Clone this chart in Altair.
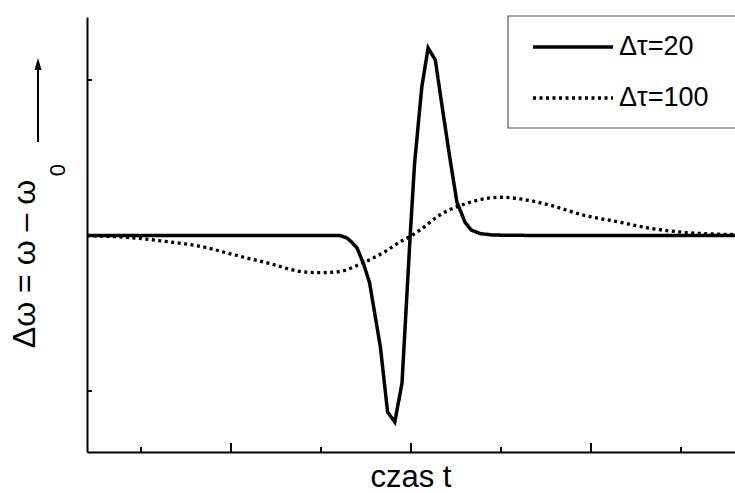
import altair as alt
import pandas as pd

# ---- data ----
series_names = ["Δτ=20", "Δτ=100"]

t_20 = [0, 100, 200, 270, 281, 289, 294, 300, 307, 314, 326, 334, 342, 350, 359,
        364, 372, 379, 387, 394, 403, 411, 420, 427, 437, 451, 500, 600, 720]
v_20 = [0, 0, 0, 0, 0, -0.016, -0.042, -0.08, -0.177, -0.305, -0.717, -1.135, -1.199,
        -0.949, -0.01, 0.466, 0.955, 1.206, 1.129, 0.852, 0.505, 0.215, 0.085, 0.035,
        0.012, 0.003, 0, 0, 0]

t_100 = [0, 53, 90, 128, 164, 201, 239, 257, 279, 306, 331, 348, 361, 370, 392, 422,
         459, 484, 514, 551, 589, 626, 662, 720]
v_100 = [0, -0.016, -0.040, -0.072, -0.125, -0.177, -0.233, -0.239, -0.233, -0.177,
         -0.104, -0.040, 0, 0.035, 0.132, 0.207, 0.246, 0.233, 0.196, 0.132, 0.089,
         0.046, 0.021, 0.006]

x_major_ticks = [160, 360, 560]
x_minor_ticks = [60, 260, 460, 660]
y_ticks = [-1, 1]

x_title = "czas t"
y_title = "Δω = ω – ω"
y_title_sub = "0"

# ---- tables ----
df20 = pd.DataFrame({"t": t_20, "v": v_20, "series": series_names[0]})
df100 = pd.DataFrame({"t": t_100, "v": v_100, "series": series_names[1]})
dmaj = pd.DataFrame({"t": x_major_ticks})
dmin = pd.DataFrame({"t": x_minor_ticks})
dyt = pd.DataFrame({"v": y_ticks})

FONT = "Liberation Sans"

xs = alt.Scale(domain=[0, 720], nice=False, zero=False)
ys = alt.Scale(domain=[-1.392, 1.405], nice=False, zero=False)
dash = alt.Scale(domain=series_names, range=[[1, 0], [3, 3.5]])

axis_x = alt.Axis(title=None, labels=False, ticks=False, grid=False,
                  domain=True, domainColor="black", domainWidth=2)
axis_y = alt.Axis(title=None, labels=False, ticks=False, grid=False,
                  domain=True, domainColor="black", domainWidth=2)

legend = alt.Legend(
    title=None, orient="none", legendX=421, legendY=-1,
    symbolType="stroke", symbolSize=6400, symbolStrokeWidth=3.5,
    symbolStrokeColor="black", clipHeight=30, rowPadding=21, padding=16,
    symbolOffset=7, labelOffset=4, labelFont=FONT, labelFontSize=27,
    labelColor="black", labelLimit=500,
)

one = pd.DataFrame({"a": [0]})

# legend frame (runs off the right edge, as in the reference)
legend_box = alt.Chart(one).mark_rect(fill="white", stroke="#555555",
                                      strokeWidth=1.2).encode(
    x=alt.value(421), x2=alt.value(680), y=alt.value(-1), y2=alt.value(111))

line20 = alt.Chart(df20).mark_line(color="black", strokeWidth=3.5).encode(
    x=alt.X("t:Q", scale=xs, axis=axis_x),
    y=alt.Y("v:Q", scale=ys, axis=axis_y),
    strokeDash=alt.StrokeDash("series:N", scale=dash, legend=legend),
)
line100 = alt.Chart(df100).mark_line(color="black", strokeWidth=3.3,
                                     interpolate="monotone").encode(
    x=alt.X("t:Q", scale=xs, axis=axis_x),
    y=alt.Y("v:Q", scale=ys, axis=axis_y),
    strokeDash=alt.StrokeDash("series:N", scale=dash, legend=legend),
)

tick_maj = alt.Chart(dmaj).mark_rule(color="black", strokeWidth=2).encode(
    x=alt.X("t:Q", scale=xs, axis=axis_x), y=alt.value(435), y2=alt.value(426))
tick_min = alt.Chart(dmin).mark_rule(color="black", strokeWidth=2).encode(
    x=alt.X("t:Q", scale=xs, axis=axis_x), y=alt.value(435), y2=alt.value(430))
tick_y = alt.Chart(dyt).mark_rule(color="black", strokeWidth=2).encode(
    y=alt.Y("v:Q", scale=ys, axis=axis_y), x=alt.value(0), x2=alt.value(5))

ytxt = alt.Chart(one).mark_text(font=FONT, fontSize=32, angle=270, align="center",
                                baseline="alphabetic", color="black").encode(
    x=alt.value(-52), y=alt.value(247), text=alt.value(y_title))
ysub = alt.Chart(one).mark_text(font=FONT, fontSize=22, angle=270, align="center",
                                baseline="alphabetic", color="black").encode(
    x=alt.value(-22), y=alt.value(153), text=alt.value(y_title_sub))
arrow_shaft = alt.Chart(one).mark_rule(color="black", strokeWidth=2).encode(
    x=alt.value(-49), y=alt.value(125), y2=alt.value(50))
arrow_head = alt.Chart(one).mark_point(shape="M0,-1L0.6,1L-0.6,1Z", filled=True,
                                       color="black", opacity=1, size=144).encode(
    x=alt.value(-49), y=alt.value(47))
xtxt = alt.Chart(one).mark_text(font=FONT, fontSize=31, align="center",
                                baseline="alphabetic", color="black").encode(
    x=alt.value(324), y=alt.value(470), text=alt.value(x_title))

chart = alt.layer(
    legend_box, line100, line20, tick_maj, tick_min, tick_y,
    ytxt, ysub, arrow_shaft, arrow_head, xtxt,
).properties(
    width=648, height=435,
    padding={"left": 87, "top": 17, "right": 0, "bottom": 41},
    autosize=alt.AutoSizeParams(type="none"),
).configure_view(stroke=None)

chart.save("out.html", embed_options={"renderer": "svg", "actions": False})
